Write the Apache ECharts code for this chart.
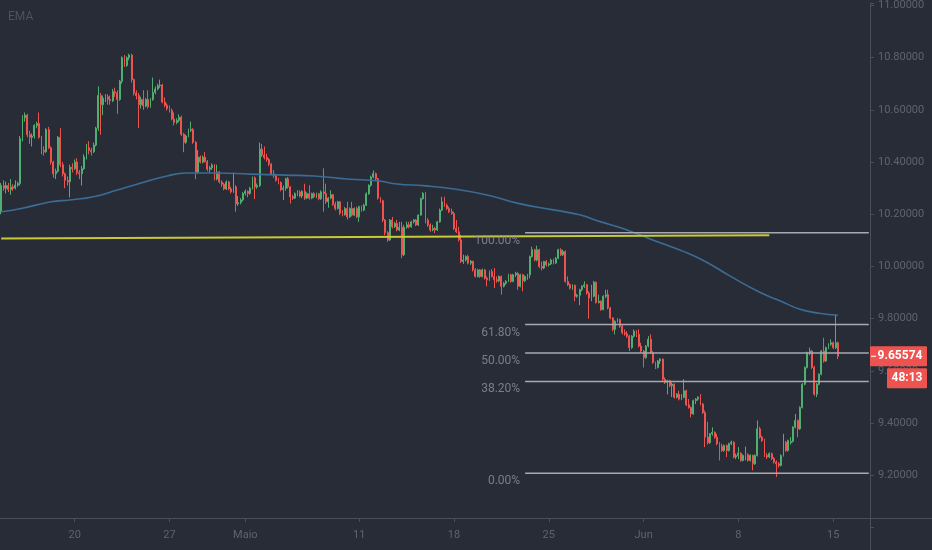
<!DOCTYPE html>
<html><head><meta charset="utf-8">
<script src="https://cdn.jsdelivr.net/npm/echarts/dist/echarts.min.js"></script>
<style>html,body{margin:0;padding:0;background:#282c37;}#c{width:932px;height:550px;}</style>
</head><body><div id="c"></div>
<script>
// 3h candles: [open, close, low, high]
const ohlc = [
// 0-60
[10.210,10.310,10.200,10.320],[10.310,10.300,10.290,10.330],[10.300,10.310,10.280,10.325],[10.310,10.295,10.285,10.320],
[10.295,10.305,10.275,10.335],[10.305,10.300,10.290,10.315],[10.300,10.312,10.295,10.330],[10.312,10.318,10.305,10.325],
[10.318,10.490,10.310,10.500],[10.490,10.570,10.480,10.580],[10.570,10.580,10.555,10.590],[10.580,10.505,10.495,10.585],
[10.505,10.495,10.470,10.520],[10.495,10.500,10.460,10.510],[10.500,10.540,10.490,10.545],[10.540,10.548,10.530,10.555],
[10.548,10.495,10.490,10.590],[10.495,10.445,10.430,10.500],[10.445,10.440,10.425,10.460],[10.440,10.525,10.435,10.530],
[10.525,10.455,10.450,10.535],[10.455,10.400,10.390,10.460],[10.400,10.355,10.340,10.405],[10.355,10.365,10.335,10.375],
[10.365,10.495,10.360,10.500],[10.495,10.390,10.380,10.530],[10.390,10.355,10.345,10.400],[10.355,10.330,10.300,10.360],
[10.330,10.325,10.310,10.345],[10.325,10.380,10.265,10.390],[10.380,10.375,10.360,10.395],[10.375,10.400,10.370,10.410],
[10.400,10.360,10.350,10.415],[10.360,10.355,10.335,10.370],[10.355,10.375,10.310,10.385],[10.375,10.420,10.370,10.430],
[10.420,10.455,10.410,10.470],[10.455,10.445,10.430,10.480],[10.445,10.440,10.425,10.455],[10.440,10.465,10.435,10.475],
[10.465,10.530,10.460,10.535],[10.530,10.655,10.520,10.690],[10.655,10.620,10.505,10.665],[10.620,10.645,10.580,10.655],
[10.645,10.650,10.630,10.660],[10.650,10.640,10.620,10.660],[10.640,10.635,10.620,10.655],[10.635,10.670,10.630,10.680],
[10.670,10.665,10.650,10.685],[10.665,10.640,10.585,10.675],[10.640,10.710,10.635,10.715],[10.710,10.800,10.700,10.805],
[10.800,10.770,10.765,10.810],[10.770,10.800,10.765,10.805],[10.800,10.810,10.790,10.815],[10.810,10.716,10.705,10.815],
[10.716,10.665,10.655,10.720],[10.665,10.655,10.640,10.675],[10.655,10.620,10.530,10.665],[10.620,10.640,10.605,10.650],
[10.640,10.615,10.600,10.675],
// 61-119
[10.615,10.640,10.610,10.645],[10.640,10.612,10.605,10.675],[10.612,10.640,10.608,10.645],[10.640,10.667,10.635,10.724],
[10.667,10.680,10.660,10.690],[10.680,10.693,10.675,10.700],[10.693,10.695,10.685,10.716],[10.695,10.630,10.625,10.700],
[10.630,10.618,10.610,10.648],[10.618,10.605,10.598,10.625],[10.605,10.598,10.590,10.617],[10.598,10.565,10.560,10.605],
[10.565,10.552,10.541,10.590],[10.552,10.560,10.545,10.568],[10.560,10.572,10.552,10.583],[10.572,10.507,10.500,10.578],
[10.507,10.476,10.438,10.512],[10.476,10.500,10.470,10.505],[10.500,10.522,10.495,10.528],[10.522,10.525,10.515,10.555],
[10.525,10.476,10.470,10.530],[10.476,10.362,10.335,10.480],[10.362,10.419,10.355,10.446],[10.419,10.400,10.395,10.425],
[10.400,10.419,10.395,10.425],[10.419,10.402,10.398,10.438],[10.402,10.373,10.365,10.408],[10.373,10.378,10.360,10.385],
[10.378,10.389,10.370,10.395],[10.389,10.335,10.330,10.392],[10.335,10.362,10.330,10.390],[10.362,10.324,10.318,10.366],
[10.324,10.315,10.305,10.330],[10.315,10.297,10.292,10.320],[10.297,10.324,10.293,10.330],[10.324,10.297,10.292,10.328],
[10.297,10.286,10.280,10.305],[10.286,10.305,10.282,10.360],[10.305,10.240,10.210,10.312],[10.240,10.245,10.232,10.270],
[10.245,10.255,10.238,10.262],[10.255,10.280,10.250,10.285],[10.280,10.288,10.272,10.295],[10.288,10.280,10.265,10.292],
[10.280,10.300,10.275,10.305],[10.300,10.340,10.295,10.345],[10.340,10.305,10.258,10.345],[10.305,10.310,10.298,10.318],
[10.310,10.450,10.305,10.475],[10.450,10.427,10.420,10.470],[10.427,10.418,10.410,10.460],[10.418,10.410,10.402,10.432],
[10.410,10.392,10.385,10.415],[10.392,10.355,10.350,10.396],[10.355,10.348,10.340,10.370],[10.348,10.330,10.325,10.352],
[10.330,10.322,10.315,10.340],[10.322,10.295,10.288,10.326],[10.295,10.300,10.255,10.310],
// 120-178
[10.300,10.336,10.290,10.340],[10.336,10.305,10.298,10.343],[10.305,10.267,10.241,10.308],[10.267,10.262,10.255,10.275],
[10.262,10.279,10.258,10.284],[10.279,10.285,10.270,10.292],[10.285,10.270,10.265,10.292],[10.270,10.288,10.262,10.292],
[10.288,10.262,10.255,10.317],[10.262,10.279,10.258,10.284],[10.279,10.262,10.256,10.311],[10.262,10.279,10.258,10.283],
[10.279,10.267,10.262,10.285],[10.267,10.279,10.262,10.283],[10.279,10.260,10.254,10.282],[10.260,10.286,10.255,10.292],
[10.286,10.279,10.210,10.376],[10.279,10.248,10.240,10.317],[10.248,10.262,10.225,10.266],[10.262,10.275,10.258,10.292],
[10.275,10.238,10.232,10.278],[10.238,10.222,10.215,10.248],[10.222,10.248,10.218,10.252],[10.248,10.205,10.197,10.250],
[10.205,10.198,10.192,10.216],[10.198,10.222,10.195,10.228],[10.222,10.190,10.180,10.248],[10.190,10.222,10.186,10.226],
[10.222,10.197,10.192,10.248],[10.197,10.222,10.193,10.226],[10.222,10.190,10.186,10.229],[10.190,10.229,10.171,10.233],
[10.229,10.216,10.210,10.234],[10.216,10.235,10.212,10.240],[10.235,10.279,10.232,10.284],[10.279,10.311,10.275,10.315],
[10.311,10.343,10.306,10.348],[10.343,10.356,10.338,10.368],[10.356,10.336,10.330,10.360],[10.336,10.262,10.256,10.340],
[10.262,10.252,10.244,10.266],[10.252,10.178,10.170,10.256],[10.178,10.130,10.120,10.182],[10.130,10.102,10.095,10.135],
[10.102,10.178,10.098,10.182],[10.178,10.152,10.146,10.190],[10.152,10.165,10.148,10.170],[10.165,10.140,10.135,10.178],
[10.140,10.150,10.135,10.171],[10.150,10.045,10.032,10.171],[10.045,10.150,10.040,10.160],[10.150,10.160,10.145,10.172],
[10.160,10.152,10.146,10.171],[10.152,10.171,10.148,10.175],[10.171,10.178,10.165,10.182],[10.178,10.159,10.155,10.182],
[10.159,10.197,10.155,10.200],[10.197,10.260,10.194,10.264],[10.260,10.280,10.256,10.285],
// 179-237
[10.280,10.178,10.165,10.285],[10.178,10.159,10.152,10.185],[10.159,10.140,10.133,10.165],[10.140,10.146,10.135,10.160],
[10.146,10.140,10.128,10.152],[10.140,10.171,10.136,10.175],[10.171,10.216,10.168,10.222],[10.216,10.248,10.212,10.267],
[10.248,10.235,10.228,10.267],[10.235,10.222,10.216,10.241],[10.222,10.210,10.205,10.229],[10.210,10.203,10.198,10.222],
[10.203,10.146,10.140,10.210],[10.146,10.133,10.128,10.178],[10.133,10.102,10.096,10.152],[10.102,10.019,10.013,10.121],
[10.019,10.025,10.010,10.045],[10.025,10.038,10.019,10.042],[10.038,10.013,10.008,10.045],[10.013,10.020,10.006,10.025],
[10.020,9.987,9.981,10.022],[9.987,9.962,9.958,9.994],[9.962,9.987,9.958,9.991],[9.987,9.962,9.956,9.990],
[9.962,9.987,9.958,9.992],[9.987,9.955,9.950,9.990],[9.955,9.949,9.924,9.962],[9.949,9.981,9.945,9.985],
[9.981,9.962,9.958,9.990],[9.962,9.949,9.917,9.994],[9.949,9.945,9.938,9.962],[9.945,9.962,9.940,9.966],
[9.962,9.924,9.892,9.965],[9.924,9.936,9.920,9.940],[9.936,9.943,9.930,9.948],[9.943,9.968,9.940,9.972],
[9.968,9.943,9.938,9.972],[9.943,9.968,9.940,9.972],[9.968,9.974,9.960,9.980],[9.974,9.924,9.911,9.978],
[9.924,9.968,9.920,9.972],[9.968,9.945,9.905,9.972],[9.945,9.962,9.940,9.966],[9.962,9.968,9.949,9.972],
[9.968,10.038,9.955,10.042],[10.038,10.064,10.034,10.076],[10.064,10.025,10.020,10.068],[10.025,10.064,10.020,10.080],
[10.064,10.000,9.994,10.068],[10.000,9.994,9.985,10.019],[9.994,10.019,9.990,10.022],[10.019,10.006,10.000,10.025],
[10.006,10.010,10.000,10.015],[10.010,10.025,10.006,10.030],[10.025,10.013,10.008,10.030],[10.013,10.032,10.010,10.036],
[10.032,10.064,10.028,10.068],[10.064,10.045,10.040,10.070],[10.045,10.057,10.040,10.064],
// 238-296
[10.057,9.943,9.938,10.062],[9.943,9.930,9.925,9.962],[9.930,9.917,9.912,9.935],[9.917,9.928,9.910,9.932],
[9.928,9.886,9.867,9.930],[9.886,9.890,9.880,9.895],[9.890,9.911,9.852,9.915],[9.911,9.924,9.905,9.928],
[9.924,9.930,9.917,9.943],[9.930,9.898,9.892,9.933],[9.898,9.879,9.800,9.905],[9.879,9.886,9.867,9.930],
[9.886,9.940,9.882,9.945],[9.940,9.862,9.858,9.942],[9.862,9.867,9.858,9.892],[9.867,9.835,9.830,9.870],
[9.835,9.886,9.832,9.890],[9.886,9.892,9.879,9.911],[9.892,9.841,9.836,9.911],[9.841,9.803,9.798,9.845],
[9.803,9.759,9.752,9.806],[9.759,9.790,9.740,9.794],[9.790,9.797,9.785,9.802],[9.797,9.771,9.765,9.800],
[9.771,9.746,9.740,9.777],[9.746,9.742,9.735,9.759],[9.742,9.733,9.727,9.752],[9.733,9.689,9.676,9.737],
[9.689,9.733,9.685,9.737],[9.733,9.752,9.728,9.759],[9.752,9.740,9.730,9.756],[9.740,9.695,9.690,9.759],
[9.695,9.676,9.670,9.708],[9.676,9.651,9.613,9.680],[9.651,9.695,9.646,9.699],[9.695,9.721,9.690,9.733],
[9.721,9.670,9.665,9.740],[9.670,9.632,9.627,9.676],[9.632,9.613,9.607,9.636],[9.613,9.638,9.609,9.642],
[9.638,9.645,9.626,9.649],[9.645,9.568,9.562,9.648],[9.568,9.556,9.550,9.575],[9.556,9.562,9.510,9.566],
[9.562,9.543,9.538,9.566],[9.543,9.549,9.500,9.556],[9.549,9.499,9.494,9.552],[9.499,9.511,9.495,9.515],
[9.511,9.492,9.487,9.524],[9.492,9.499,9.488,9.511],[9.499,9.524,9.495,9.568],[9.524,9.470,9.465,9.528],
[9.470,9.460,9.455,9.492],[9.460,9.435,9.422,9.463],[9.435,9.486,9.432,9.490],[9.486,9.492,9.473,9.496],
[9.492,9.499,9.486,9.503],[9.499,9.473,9.468,9.511],[9.473,9.440,9.435,9.477],
// 297-353
[9.440,9.346,9.308,9.448],[9.346,9.325,9.318,9.405],[9.325,9.359,9.320,9.362],[9.359,9.365,9.352,9.384],
[9.365,9.346,9.340,9.368],[9.346,9.321,9.315,9.359],[9.321,9.295,9.257,9.327],[9.310,9.295,9.290,9.321],
[9.295,9.314,9.290,9.318],[9.314,9.295,9.270,9.318],[9.295,9.321,9.291,9.325],[9.321,9.327,9.316,9.333],
[9.327,9.270,9.265,9.330],[9.270,9.275,9.262,9.283],[9.275,9.285,9.262,9.308],[9.285,9.257,9.252,9.288],
[9.257,9.276,9.253,9.280],[9.276,9.280,9.257,9.310],[9.280,9.257,9.252,9.284],[9.257,9.276,9.253,9.280],
[9.276,9.244,9.219,9.279],[9.244,9.276,9.240,9.280],[9.276,9.378,9.272,9.410],[9.378,9.346,9.340,9.386],
[9.346,9.333,9.328,9.352],[9.333,9.276,9.270,9.340],[9.276,9.270,9.262,9.285],[9.270,9.283,9.266,9.288],
[9.283,9.264,9.258,9.287],[9.264,9.251,9.245,9.270],[9.251,9.244,9.194,9.257],[9.244,9.238,9.230,9.251],
[9.238,9.276,9.234,9.280],[9.276,9.327,9.272,9.359],[9.327,9.295,9.290,9.331],[9.295,9.333,9.291,9.337],
[9.325,9.330,9.318,9.346],[9.330,9.384,9.326,9.388],[9.384,9.410,9.380,9.435],[9.410,9.378,9.346,9.414],
[9.378,9.460,9.374,9.464],[9.460,9.549,9.456,9.553],[9.549,9.613,9.545,9.617],[9.613,9.670,9.609,9.674],
[9.670,9.676,9.660,9.689],[9.676,9.613,9.608,9.680],[9.613,9.511,9.505,9.619],[9.511,9.549,9.500,9.553],
[9.549,9.587,9.545,9.591],[9.587,9.676,9.583,9.680],[9.676,9.638,9.632,9.727],[9.638,9.689,9.634,9.693],
[9.689,9.702,9.684,9.706],[9.702,9.708,9.696,9.721],[9.708,9.689,9.684,9.712],[9.689,9.708,9.684,9.816],
[9.708,9.65574,9.645,9.712]
];
// EMA read at sample candles: [candle index, value]
const emaPoints = [[0,10.210],[8,10.221],[21,10.248],[29,10.255],[39,10.267],[49,10.293],[59,10.320],[70,10.347],
[78,10.358],[91,10.358],[105,10.354],[120,10.350],[132,10.347],[146,10.335],[159,10.328],[167,10.316],[179,10.309],
[191,10.297],[205,10.274],[219,10.240],[233,10.217],[244,10.198],[253,10.171],[261,10.149],[268,10.126],[278,10.091],
[288,10.057],[297,10.019],[307,9.966],[320,9.901],[329,9.867],[337,9.836],[345,9.821],[353,9.813]];
const trendLine = [[0,10.107],[324,10.120]];
const fibText = ['0.00%','38.20%','50.00%','61.80%','100.00%'];
const fibPrices = [9.2076, 9.5598, 9.6686, 9.7773, 10.1295];
const fibStart = 221;
const tickIndex = [31,71,103,151,191,231,271,311,351];
const tickText = ['20','27','Maio','11','18','25','Jun','8','15'];
const lastPrice = 9.65574;
const timerText = '48:13';
const indicatorName = 'EMA';
const N = 367;

const cats = [];
for (let i = 0; i < N; i++) cats.push(String(i));
const FONT = 'Roboto, "Liberation Sans", sans-serif';
const AX = '#4b4f5a';
const TXT = '#5f636e';

const chart = echarts.init(document.getElementById('c'), null, {renderer: 'canvas'});
const series = [
  {type: 'candlestick', xAxisIndex: 0, yAxisIndex: 0, data: ohlc, barWidth: 1.4, z: 2,
   itemStyle: {color: '#6cc070', color0: '#ef5350', borderColor: '#4fae70', borderColor0: '#ef5350', borderWidth: 1}},
  {type: 'line', xAxisIndex: 0, yAxisIndex: 0, data: emaPoints, smooth: true, symbol: 'none', z: 3,
   lineStyle: {color: '#3a6c96', width: 1.6}},
  {type: 'line', xAxisIndex: 0, yAxisIndex: 0, data: trendLine, symbol: 'none', z: 4,
   lineStyle: {color: '#c9c935', width: 2}}
];
fibPrices.forEach((p, k) => {
  series.push({type: 'line', xAxisIndex: 0, yAxisIndex: 0, data: [[fibStart, p], [N - 1, p]], symbol: 'none', z: 4,
    lineStyle: {color: '#a6a9b1', width: 1.5}});
});
series.push({type: 'scatter', xAxisIndex: 0, yAxisIndex: 0, symbolSize: 0, z: 5,
  data: fibPrices.map((p, k) => ({value: [fibStart, p], label: {formatter: fibText[k]}})),
  label: {show: true, position: 'left', distance: 5, offset: [0, 8], color: '#8f929b', fontSize: 12, fontFamily: FONT}});

chart.setOption({
  animation: false,
  backgroundColor: '#282c37',
  grid: [
    {left: 0, right: 62, top: 0, bottom: 22.5},
    {left: 0, right: 62, top: 517, height: 1}
  ],
  xAxis: [
    {type: 'category', gridIndex: 0, data: cats, show: false, boundaryGap: true},
    {type: 'category', gridIndex: 1, data: cats, boundaryGap: true, position: 'bottom',
     axisLine: {show: true, lineStyle: {color: AX, width: 1}},
     axisTick: {show: true, alignWithLabel: true, length: 4, lineStyle: {color: AX},
       interval: (i) => tickIndex.indexOf(i) >= 0},
     axisLabel: {show: true, margin: 12, color: TXT, fontSize: 11, fontFamily: FONT,
       interval: (i) => tickIndex.indexOf(i) >= 0,
       formatter: (v) => { const k = tickIndex.indexOf(Number(v)); return k >= 0 ? tickText[k] : ''; }},
     splitLine: {show: false}}
  ],
  yAxis: [
    {type: 'value', gridIndex: 0, position: 'right', min: 9.0, max: 11.0095, interval: 0.2,
     axisLine: {show: true, lineStyle: {color: AX, width: 1}},
     axisTick: {show: true, length: 4, lineStyle: {color: AX}},
     axisLabel: {margin: 8, color: TXT, fontSize: 11, fontFamily: FONT, showMaxLabel: true,
       formatter: (v) => (v < 9.1 || v > 11.005) ? '' : v.toFixed(5)},
     splitLine: {show: false}},
    {type: 'value', gridIndex: 1, show: false}
  ],
  series: series
});

const yp = chart.convertToPixel({yAxisIndex: 0}, lastPrice);
const xr = 870;
chart.setOption({
  graphic: [
    {type: 'text', left: 8, top: 11, z: 50, style: {text: indicatorName, fill: '#4e525d', font: '12px ' + FONT}},
    {type: 'line', z: 50, shape: {x1: xr, y1: 518.5, x2: 932, y2: 518.5}, style: {stroke: AX, lineWidth: 1}},
    {type: 'line', z: 50, shape: {x1: xr + 0.5, y1: 518, x2: xr + 0.5, y2: 550}, style: {stroke: AX, lineWidth: 1}},
    {type: 'rect', z: 60, shape: {x: xr, y: yp - 10, width: 57, height: 20, r: 1}, style: {fill: '#ef5350'}},
    {type: 'line', z: 61, shape: {x1: xr + 1, y1: yp, x2: xr + 6, y2: yp}, style: {stroke: '#f9d6d5', lineWidth: 1.5}},
    {type: 'text', z: 61, x: 900, y: yp, style: {text: lastPrice.toFixed(5), fill: '#ffffff', font: 'bold 12px ' + FONT, align: 'center', verticalAlign: 'middle'}},
    {type: 'rect', z: 60, shape: {x: 887, y: yp + 12, width: 40, height: 20, r: 1}, style: {fill: '#ef5350'}},
    {type: 'text', z: 61, x: 907, y: yp + 22, style: {text: timerText, fill: '#ffffff', font: 'bold 12px ' + FONT, align: 'center', verticalAlign: 'middle'}}
  ]
});
</script>
</body></html>
